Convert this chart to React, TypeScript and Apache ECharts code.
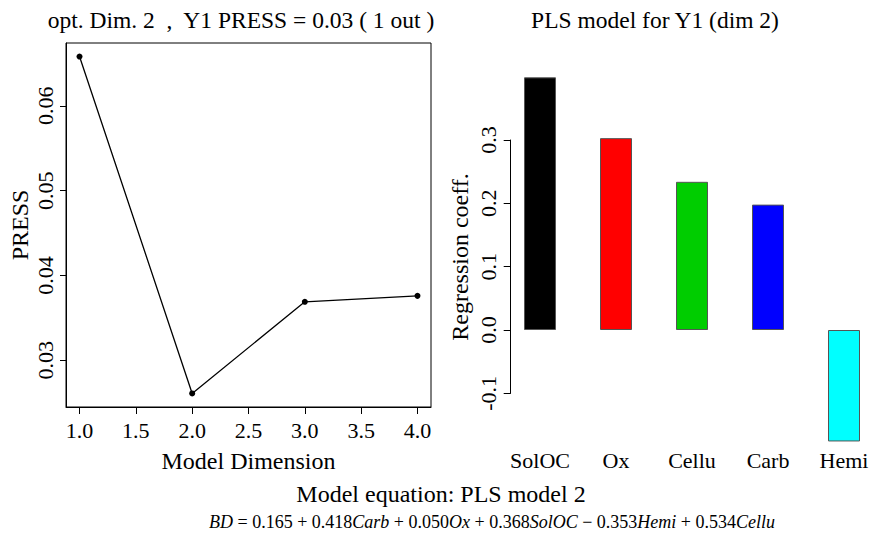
import React, { useEffect, useRef } from "react";
import * as echarts from "echarts";

const dims = [1, 2, 3, 4];
const press = [0.0658, 0.0261, 0.0369, 0.0376];
const xTicks = [1.0, 1.5, 2.0, 2.5, 3.0, 3.5, 4.0];
const yTicks = [0.03, 0.04, 0.05, 0.06];

const vars = ["SolOC", "Ox", "Cellu", "Carb", "Hemi"];
const coeffs = [0.399, 0.303, 0.234, 0.198, -0.176];
const barColors = ["#000000", "#FF0000", "#00CD00", "#0000FF", "#00FFFF"];

const SERIF = "'Liberation Serif', 'Times New Roman', serif";

export default function App() {
  const ref = useRef<HTMLDivElement>(null);
  useEffect(() => {
    document.body.style.margin = "0";
    const chart = echarts.init(ref.current!, null, { renderer: "svg" });
    const option: any = {
      animation: false,
      backgroundColor: "#ffffff",
      textStyle: { fontFamily: SERIF, color: "#000" },
      grid: [
        { left: 66, top: 43, width: 365, height: 364, show: true, borderColor: "#000", borderWidth: 1, backgroundColor: "transparent" },
        { left: 502, top: 76.7, width: 381, height: 367.3 },
        { left: 510.7, top: 140, width: 10, height: 253.3 },
      ],
      xAxis: [
        {
          gridIndex: 0, type: "value", min: 0.88, max: 4.12,
          axisLine: { show: true, lineStyle: { color: "#000", width: 1 } },
          axisTick: { show: true, inside: false, length: 7, customValues: xTicks, lineStyle: { color: "#000" } },
          axisLabel: { customValues: xTicks, margin: 12, fontSize: 22, fontFamily: SERIF, color: "#000", formatter: (v: number) => v.toFixed(1) },
          splitLine: { show: false },
          name: "Model Dimension", nameLocation: "middle", nameGap: 42,
          nameTextStyle: { fontSize: 24, fontFamily: SERIF, color: "#000" },
        },
        {
          gridIndex: 1, type: "category", data: vars,
          axisLine: { show: false }, axisTick: { show: false },
          axisLabel: { interval: 0, margin: 5, fontSize: 22, fontFamily: SERIF, color: "#000" },
        },
        { gridIndex: 2, type: "value", show: false },
      ],
      yAxis: [
        {
          gridIndex: 0, type: "value", min: 0.0245, max: 0.0674,
          axisLine: { show: true, lineStyle: { color: "#000", width: 1 } },
          axisTick: { show: true, inside: false, length: 6, customValues: yTicks, lineStyle: { color: "#000" } },
          axisLabel: { customValues: yTicks, rotate: 90, margin: 10, fontSize: 22, fontFamily: SERIF, color: "#000", formatter: (v: number) => v.toFixed(2) },
          splitLine: { show: false },
          name: "PRESS", nameLocation: "middle", nameRotate: 90, nameGap: 34,
          nameTextStyle: { fontSize: 24, fontFamily: SERIF, color: "#000" },
        },
        { gridIndex: 1, type: "value", min: -0.18, max: 0.4, show: false },
        {
          gridIndex: 2, type: "value", min: -0.1, max: 0.3, interval: 0.1,
          axisLine: { show: true, lineStyle: { color: "#000", width: 1 } },
          axisTick: { show: true, inside: false, length: 7, lineStyle: { color: "#000" } },
          axisLabel: { rotate: 90, margin: 11, fontSize: 22, fontFamily: SERIF, color: "#000", formatter: (v: number) => v.toFixed(1) },
          splitLine: { show: false },
        },
      ],
      series: [
        {
          type: "line", xAxisIndex: 0, yAxisIndex: 0,
          data: dims.map((d, i) => [d, press[i]]),
          lineStyle: { color: "#000", width: 1.3 },
          itemStyle: { color: "#000" },
          symbol: "circle", symbolSize: 6, showSymbol: true,
        },
        {
          type: "bar", xAxisIndex: 1, yAxisIndex: 1, barWidth: 32,
          data: coeffs.map((v, i) => ({ value: v, itemStyle: { color: barColors[i], borderColor: "#555", borderWidth: 1 } })),
        },
      ],
      graphic: [
        { type: "text", x: 241, y: 20, style: { text: "opt. Dim. 2  ,  Y1 PRESS = 0.03 ( 1 out )", font: `23.5px ${SERIF}`, fill: "#000", align: "center", verticalAlign: "middle" } },
        { type: "text", x: 655, y: 20, style: { text: "PLS model for Y1 (dim 2)", font: `23.5px ${SERIF}`, fill: "#000", align: "center", verticalAlign: "middle" } },
        { type: "text", x: 460, y: 257, rotation: Math.PI / 2, style: { text: "Regression coeff.", font: `24px ${SERIF}`, fill: "#000", align: "center", verticalAlign: "middle" } },
        { type: "text", x: 441, y: 494, style: { text: "Model equation: PLS model 2", font: `24px ${SERIF}`, fill: "#000", align: "center", verticalAlign: "middle" } },
        {
          type: "text", x: 492, y: 522,
          style: {
            text: "{i|BD} = 0.165 + 0.418{i|Carb} + 0.050{i|Ox} + 0.368{i|SolOC} − 0.353{i|Hemi} + 0.534{i|Cellu}",
            font: `18px ${SERIF}`, fontSize: 18, fontFamily: SERIF, fill: "#000", align: "center", verticalAlign: "middle",
            rich: { i: { fontStyle: "italic", fontSize: 18, fontFamily: SERIF, fill: "#000" } },
          },
        },
      ],
    };
    chart.setOption(option);
    return () => chart.dispose();
  }, []);
  return <div ref={ref} style={{ width: 882, height: 538 }} />;
}
